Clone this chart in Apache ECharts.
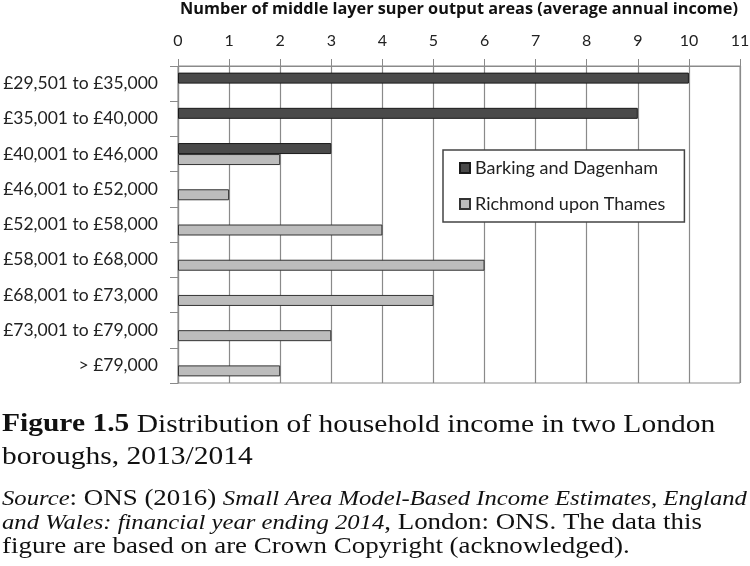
<!DOCTYPE html>
<html>
<head>
<meta charset="utf-8">
<script src="https://cdn.jsdelivr.net/npm/echarts@6/dist/echarts.min.js"></script>
<style>html,body{margin:0;padding:0;background:#fff}#chart{width:750px;height:566px}</style>
</head>
<body>
<div id="chart"></div>
<script>
const categories = ['£29,501 to £35,000', '£35,001 to £40,000', '£40,001 to £46,000', '£46,001 to £52,000', '£52,001 to £58,000', '£58,001 to £68,000', '£68,001 to £73,000', '£73,001 to £79,000', '> £79,000'];
const barking = [10, 9, 3, 0, 0, 0, 0, 0, 0];
const richmond = [0, 0, 2, 1, 4, 6, 5, 3, 2];
const xTicks = [0, 1, 2, 3, 4, 5, 6, 7, 8, 9, 10, 11];
const seriesNames = ['Barking and Dagenham', 'Richmond upon Thames'];
const axisTitle = 'Number of middle layer super output areas (average annual income)';

const sans = 'Lato, "Open Sans", sans-serif';
const serif = '"Liberation Serif", "DejaVu Serif", serif';
const grey = '#8a8a8a';

// zero-valued bars are not drawn with an outline
const asBarData = arr => arr.map(v => v === 0 ? {value: v, itemStyle: {borderWidth: 0}} : v);

const chart = echarts.init(document.getElementById('chart'), null, {renderer: 'canvas'});
chart.setOption({
  animation: false,
  backgroundColor: '#fff',
  grid: {left: 178, right: 10, top: 66, bottom: 183, containLabel: false, outerBoundsMode: 'none',
         show: true, borderColor: grey, borderWidth: 1, backgroundColor: 'transparent'},
  xAxis: {
    type: 'value', position: 'top', min: xTicks[0], max: xTicks[xTicks.length - 1], interval: 1,
    name: axisTitle, nameLocation: 'middle', nameGap: 49,
    nameTextStyle: {fontFamily: '"Open Sans", Lato, sans-serif', fontWeight: 'bold', fontSize: 16.3, color: '#111'},
    axisLine: {show: true, lineStyle: {color: grey, width: 1}},
    axisTick: {show: true, length: 7, lineStyle: {color: grey}},
    axisLabel: {margin: 17, fontFamily: sans, fontSize: 16, color: '#222'},
    splitLine: {show: true, lineStyle: {color: grey, width: 1.2}}
  },
  yAxis: {
    type: 'category', inverse: true, data: categories,
    axisLine: {show: true, lineStyle: {color: grey, width: 1.2}},
    axisTick: {show: true, length: 8, lineStyle: {color: grey}},
    axisLabel: {margin: 20, fontFamily: sans, fontSize: 17.5, color: '#222'},
    splitLine: {show: false}
  },
  legend: {
    orient: 'vertical', left: 443, top: 150,
    padding: [9, 19, 9, 16], itemGap: 18,
    backgroundColor: '#fff', borderColor: '#444', borderWidth: 1.5,
    itemWidth: 10, itemHeight: 10, icon: 'rect',
    textStyle: {fontFamily: sans, fontSize: 18, color: '#222', width: 195},
    data: seriesNames
  },
  series: [
    {name: seriesNames[0], type: 'bar', data: asBarData(barking), barWidth: 11, barGap: '0%',
     itemStyle: {color: '#4a4a4a', borderColor: '#1a1a1a', borderWidth: 1}},
    {name: seriesNames[1], type: 'bar', data: asBarData(richmond), barWidth: 11, barGap: '0%',
     itemStyle: {color: '#bcbcbc', borderColor: '#333', borderWidth: 1}}
  ],
  graphic: [
    {type: 'text', x: 2, y: 409, scaleX: 1.18, style: {
      text: '{b|Figure 1.5} Distribution of household income in two London\nboroughs, 2013/2014',
      font: '25px ' + serif, fill: '#111', lineHeight: 32,
      rich: {b: {fontWeight: 'bold', fontSize: 25, fontFamily: serif, fill: '#111', lineHeight: 32}}
    }},
    {type: 'text', x: 2, y: 487, scaleX: 1.17, style: {
      text: '{i|Source}: ONS (2016) {i|Small Area Model-Based Income Estimates, England}\n{i|and Wales: financial year ending 2014}, London: ONS. The data this\nfigure are based on are Crown Copyright (acknowledged).',
      font: '23px ' + serif, fill: '#111', lineHeight: 24,
      rich: {i: {fontStyle: 'italic', fontSize: 21.1, fontFamily: serif, fill: '#111', lineHeight: 24}}
    }}
  ]
});
</script>
</body>
</html>
